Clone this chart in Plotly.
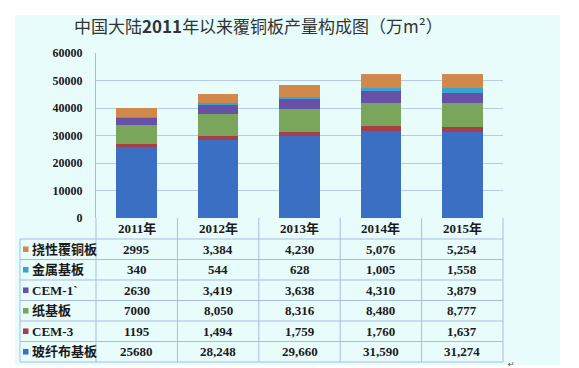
import plotly.graph_objects as go

# ---------------- data ----------------
years = ["2011年", "2012年", "2013年", "2014年", "2015年"]
glass = [25680, 28248, 29660, 31590, 31274]      # 玻纤布基板
cem3 = [1195, 1494, 1759, 1760, 1637]            # CEM-3
paper = [7000, 8050, 8316, 8480, 8777]           # 纸基板
cem1 = [2630, 3419, 3638, 4310, 3879]            # CEM-1
metal = [340, 544, 628, 1005, 1558]              # 金属基板
flex = [2995, 3384, 4230, 5076, 5254]            # 挠性覆铜板

series_names = ["玻纤布基板", "CEM-3", "纸基板", "CEM-1`", "金属基板", "挠性覆铜板"]
series_values = [glass, cem3, paper, cem1, metal, flex]
series_colors = ["#3A6FC3", "#A5404B", "#79A65A", "#6651A6", "#3AA2D5", "#D0894A"]

y_ticks = [0, 10000, 20000, 30000, 40000, 50000, 60000]
y_tick_labels = ["0", "10000", "20000", "30000", "40000", "50000", "60000"]

title_text = "中国大陆<b>2011</b>年以来覆铜板产量构成图（万m²）"

# ---------------- geometry helpers (pixels -> paper) ----------------
W, H = 579, 368
L, R, T, B = 88, 495, 45, 210
PW, PH = R - L, B - T


def px(x):
    return (x - L) / PW


def py(y):
    return (B - y) / PH


fig = go.Figure()
for name, vals, col in zip(series_names, series_values, series_colors):
    fig.add_trace(go.Bar(x=years, y=vals, name=name, marker=dict(color=col, line=dict(width=0)),
                         showlegend=False))

LINE = "#A9BBE3"
GRID = "#B8C9F0"
NUMFONT = "Liberation Serif, Noto Sans CJK SC"

shapes = []
# background panel
shapes.append(dict(type="rect", xref="paper", yref="paper", x0=px(7), x1=px(552), y0=py(357), y1=py(7),
                   fillcolor="#E9FCFC", line=dict(width=0), layer="below"))

# table geometry
row_h = 20.5
header_bottom = 231
n_rows = len(series_names)
row_lines = [header_bottom + i * row_h for i in range(n_rows + 1)]
col_w = PW / len(years)
table_left = 12

# horizontal lines
for yl in row_lines:
    shapes.append(dict(type="line", xref="paper", yref="paper", x0=px(table_left), x1=px(R),
                       y0=py(yl), y1=py(yl), line=dict(color=LINE, width=1)))
# vertical lines
shapes.append(dict(type="line", xref="paper", yref="paper", x0=px(table_left), x1=px(table_left),
                   y0=py(header_bottom), y1=py(row_lines[-1]), line=dict(color=LINE, width=1)))
for k in range(len(years) + 1):
    xl = L + k * col_w
    shapes.append(dict(type="line", xref="paper", yref="paper", x0=px(xl), x1=px(xl),
                       y0=py(B), y1=py(row_lines[-1]), line=dict(color=LINE, width=1)))

annotations = []
# title
annotations.append(dict(text=title_text, xref="paper", yref="paper", x=px(250), y=py(17),
                        xanchor="center", yanchor="middle", showarrow=False,
                        font=dict(family="Noto Sans CJK SC", size=17, color="#333333")))
# header years
for yr in years:
    annotations.append(dict(text=yr, xref="x", yref="paper", x=yr, y=py((B + header_bottom) / 2),
                            xanchor="center", yanchor="middle", showarrow=False,
                            font=dict(family=NUMFONT, size=13, color="#1a1a1a", weight="bold")))

# table rows (top to bottom: reverse stacking order)
order = list(range(n_rows))[::-1]
for r, si in enumerate(order):
    yc = (row_lines[r] + row_lines[r + 1]) / 2
    # legend key square
    shapes.append(dict(type="rect", xref="paper", yref="paper", x0=px(15), x1=px(20.5),
                       y0=py(yc + 2.8), y1=py(yc - 2.8), fillcolor=series_colors[si], line=dict(width=0)))
    annotations.append(dict(text=series_names[si], xref="paper", yref="paper", x=px(22), y=py(yc),
                            xanchor="left", yanchor="middle", showarrow=False,
                            font=dict(family=NUMFONT, size=13, color="#1a1a1a", weight="bold")))
    for ci, yr in enumerate(years):
        v = series_values[si][ci]
        txt = f"{v}" if ci == 0 else f"{v:,}"
        annotations.append(dict(text=txt, xref="x", yref="paper", x=yr, y=py(yc),
                                xanchor="center", yanchor="middle", showarrow=False,
                                font=dict(family=NUMFONT, size=13, color="#1a1a1a", weight="bold")))

# paragraph mark
annotations.append(dict(text="↵", xref="paper", yref="paper", x=px(503), y=py(356),
                        xanchor="center", yanchor="middle", showarrow=False,
                        font=dict(family="DejaVu Sans", size=8, color="#555")))

fig.update_layout(
    width=W, height=H, autosize=False,
    margin=dict(l=L, r=W - R, t=T, b=H - B, pad=0),
    paper_bgcolor="white", plot_bgcolor="rgba(0,0,0,0)",
    barmode="stack", bargap=0.5,
    shapes=shapes, annotations=annotations,
    showlegend=False,
)
fig.update_xaxes(showticklabels=False, showgrid=False, showline=False, zeroline=False, ticks="")
fig.update_yaxes(range=[0, 60000], tickvals=y_ticks, ticktext=y_tick_labels,
                 showgrid=True, gridcolor=GRID, gridwidth=1,
                 showline=True, linecolor=LINE, linewidth=1, zeroline=False, ticks="",
                 ticklabelstandoff=10,
                 tickfont=dict(family="Liberation Serif", size=12, color="#1a1a1a", weight="bold"))

fig.write_html("out.html")
